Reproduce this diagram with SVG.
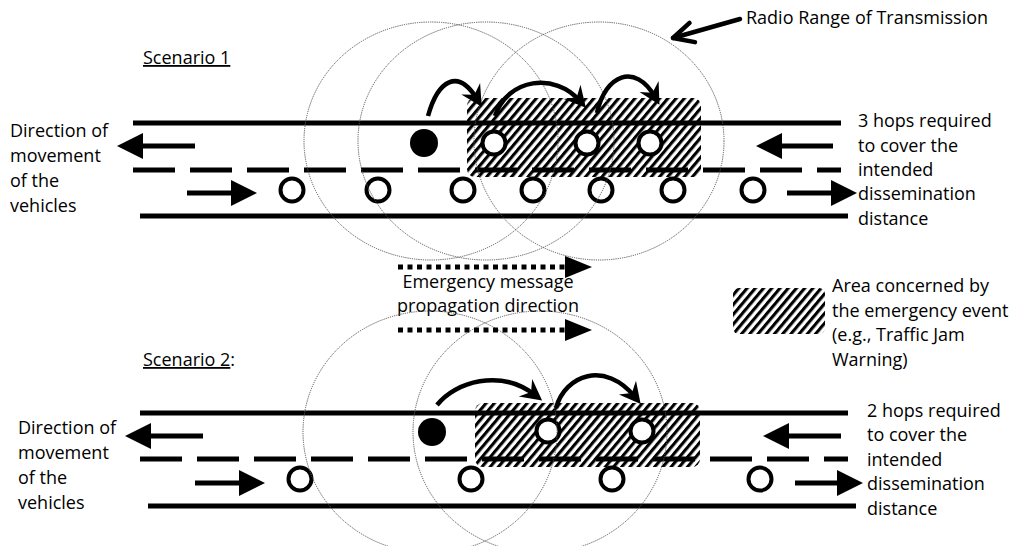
<svg xmlns="http://www.w3.org/2000/svg" width="1014" height="546" viewBox="0 0 1014 546">
<style>
text{font-family:"Open Sans","Liberation Sans",sans-serif;font-size:18px;fill:#000}
.road{stroke:#000;stroke-width:5;fill:none}
.dash{stroke:#000;stroke-width:5;fill:none;stroke-dasharray:42 15}
.shaft{stroke:#000;stroke-width:5;fill:none;marker-end:url(#tri)}
.dotted{stroke:#000;stroke-width:5;fill:none;stroke-dasharray:5 4.5;marker-end:url(#tri2)}
.car{fill:#fff;stroke:#000;stroke-width:4}
.src{fill:#000}
.range{fill:none;stroke:#555;stroke-width:1;stroke-dasharray:1.2 1}
.hop{fill:none;stroke:#000;stroke-width:4.5;marker-end:url(#barb)}
.area{fill:url(#hatch)}
</style>
<defs>
<pattern id="hatch" patternUnits="userSpaceOnUse" width="6.3" height="10" patternTransform="rotate(40)">
<rect x="0" y="0" width="3.1" height="10" fill="#000"/>
</pattern>
<marker id="tri" markerUnits="userSpaceOnUse" viewBox="0 0 26 26" refX="0" refY="13" markerWidth="26" markerHeight="26" orient="auto">
<path d="M0,0 L26,13 L0,26 z" fill="#000"/>
</marker>
<marker id="tri2" markerUnits="userSpaceOnUse" viewBox="0 0 27 22" refX="0" refY="11" markerWidth="27" markerHeight="22" orient="auto">
<path d="M0,0 L27,11 L0,22 z" fill="#000"/>
</marker>
<marker id="barb" markerUnits="userSpaceOnUse" viewBox="-22 -12 26 24" refX="-7" refY="0" markerWidth="26" markerHeight="24" orient="auto">
<path d="M2,0 L-19,-11 L-12,0 L-19,11 z" fill="#000"/>
</marker>
<marker id="open" markerUnits="userSpaceOnUse" viewBox="-24 -14 28 28" refX="0" refY="0" markerWidth="28" markerHeight="28" orient="auto">
<path d="M-20,-10 L0,0 L-20,10" fill="none" stroke="#000" stroke-width="4.5" stroke-linecap="round" stroke-linejoin="round"/>
</marker>
</defs>

<!-- Scenario 1 -->
<g id="s1-area"><rect class="area" x="467" y="98" width="234" height="79" rx="8"/></g>
<g id="s1-road">
<line class="road" x1="133" y1="123" x2="841" y2="123"/>
<line class="dash" x1="133" y1="170" x2="841" y2="170"/>
<line class="road" x1="140" y1="216" x2="848" y2="216"/>
</g>
<g id="s1-vehicles">
<circle class="src" cx="424" cy="143" r="14"/>
<circle class="car" cx="494" cy="143" r="11.5"/>
<circle class="car" cx="587" cy="143" r="11.5"/>
<circle class="car" cx="650" cy="143" r="11.5"/>
<circle class="car" cx="292" cy="190" r="11.5"/>
<circle class="car" cx="378" cy="190" r="11.5"/>
<circle class="car" cx="463" cy="190" r="11.5"/>
<circle class="car" cx="533" cy="190" r="11.5"/>
<circle class="car" cx="601" cy="190" r="11.5"/>
<circle class="car" cx="673" cy="190" r="11.5"/>
<circle class="car" cx="753" cy="190" r="11.5"/>
</g>
<g id="s1-ranges">
<ellipse class="range" cx="431" cy="141" rx="127" ry="119"/>
<ellipse class="range" cx="486" cy="141" rx="128" ry="119"/>
<ellipse class="range" cx="599" cy="141" rx="125" ry="119"/>
</g>
<g id="s1-labels">
<text x="143" y="64" text-decoration="underline">Scenario 1</text>
<text x="10" y="137">Direction of</text>
<text x="10" y="162">movement</text>
<text x="10" y="187">of the</text>
<text x="10" y="212">vehicles</text>
<text x="858" y="127">3 hops required</text>
<text x="858" y="152">to cover the</text>
<text x="858" y="176">intended</text>
<text x="858" y="200">dissemination</text>
<text x="858" y="225">distance</text>
<text x="746" y="24">Radio Range of Transmission</text>
</g>

<!-- Legend -->
<g id="legend">
<rect class="area" x="733" y="288" width="92" height="46" rx="6"/>
<text x="832" y="292">Area concerned by</text>
<text x="832" y="317">the emergency event</text>
<text x="832" y="341">(e.g., Traffic Jam</text>
<text x="832" y="366">Warning)</text>
</g>

<g id="propagation">
<text x="488" y="288" text-anchor="middle">Emergency message</text>
<text x="488" y="312" text-anchor="middle">propagation direction</text>
</g>

<!-- Scenario 2 -->
<g id="s2-area"><rect class="area" x="475" y="403" width="225" height="64" rx="8"/></g>
<g id="s2-road">
<line class="road" x1="140" y1="413" x2="848" y2="413"/>
<line class="dash" x1="140" y1="459" x2="848" y2="459"/>
<line class="road" x1="148" y1="506" x2="856" y2="506"/>
</g>
<g id="s2-vehicles">
<circle class="src" cx="432" cy="432" r="14"/>
<circle class="car" cx="548" cy="431" r="11.5"/>
<circle class="car" cx="642" cy="431" r="11.5"/>
<circle class="car" cx="300" cy="479" r="11.5"/>
<circle class="car" cx="471" cy="479" r="11.5"/>
<circle class="car" cx="612" cy="479" r="11.5"/>
<circle class="car" cx="760" cy="479" r="11.5"/>
</g>
<g id="s2-ranges">
<ellipse class="range" cx="430" cy="432" rx="127" ry="121"/>
<ellipse class="range" cx="540" cy="432" rx="127" ry="121"/>
</g>
<g id="s2-labels">
<text x="143" y="366"><tspan text-decoration="underline">Scenario 2</tspan>:</text>
<text x="18" y="434">Direction of</text>
<text x="18" y="459">movement</text>
<text x="18" y="484">of the</text>
<text x="18" y="509">vehicles</text>
<text x="867" y="417">2 hops required</text>
<text x="867" y="441">to cover the</text>
<text x="867" y="466">intended</text>
<text x="867" y="490">dissemination</text>
<text x="867" y="515">distance</text>
</g>

<g id="connectors">
<line class="shaft" x1="195" y1="146" x2="143" y2="146"/>
<line class="shaft" x1="187" y1="193" x2="231" y2="193"/>
<line class="shaft" x1="833" y1="146" x2="782" y2="146"/>
<line class="shaft" x1="787" y1="193" x2="831" y2="193"/>
<line class="shaft" x1="203" y1="436" x2="151" y2="436"/>
<line class="shaft" x1="195" y1="483" x2="239" y2="483"/>
<line class="shaft" x1="841" y1="436" x2="789" y2="436"/>
<line class="shaft" x1="795" y1="483" x2="837" y2="483"/>
<line class="dotted" x1="398" y1="267" x2="565" y2="267"/>
<line class="dotted" x1="398" y1="330" x2="565" y2="330"/>
<line x1="740" y1="19" x2="673" y2="38" stroke="#000" stroke-width="4.5" stroke-linecap="round" marker-end="url(#open)"/>
<path class="hop" d="M428,116 C438,80 458,68 477,99"/>
<path class="hop" d="M495,116 C508,78 555,72 580,101"/>
<path class="hop" d="M597,113 C605,75 635,62 655,97"/>
<path class="hop" d="M437,405 C455,382 500,368 535,395"/>
<path class="hop" d="M556,408 C565,375 605,360 635,397"/>
</g>
</svg>
